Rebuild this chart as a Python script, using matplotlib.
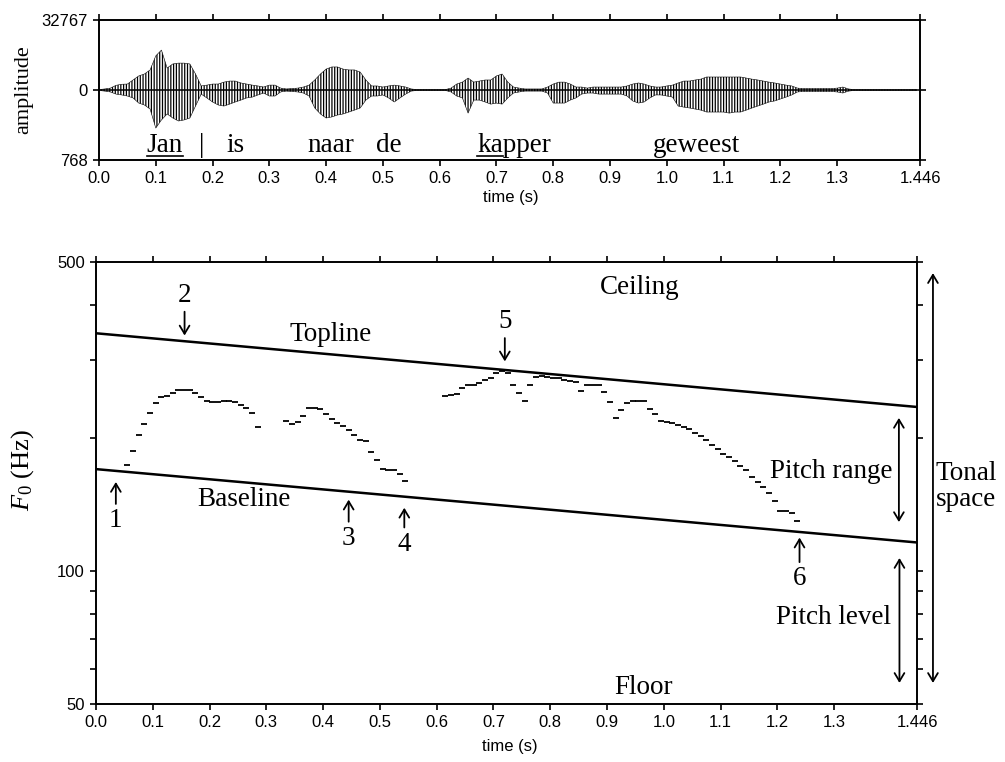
"""
Waveform and F0 contour of 'Jan is naar de kapper geweest'
with topline / baseline and the tonal space annotations.
"""

import numpy as np
import matplotlib
matplotlib.use("Agg")
import matplotlib.pyplot as plt

plt.rcParams["font.family"] = ["Liberation Sans", "DejaVu Sans"]
plt.rcParams["mathtext.fontset"] = "custom"
plt.rcParams["mathtext.rm"] = "Liberation Serif"
plt.rcParams["mathtext.it"] = "Liberation Serif:italic"
plt.rcParams["hatch.linewidth"] = 0.9

SERIF = "Liberation Serif"
DUR = 1.446
FRAME = 0.01

# ── waveform envelope (10 ms steps from 0.00 s), in 1000s of amplitude units
wave_pos_k = [0.2, 0.5, 0.9, 2.2, 2.7, 2.8, 4.7, 6.6, 7.5, 9.4,
              16.0, 18.7, 10.3, 12.2, 12.6, 12.6, 12.2, 7.5, 1.9, 2.3,
              2.8, 2.8, 3.7, 4.2, 4.2, 3.3, 2.8, 2.3, 1.9, 1.4,
              2.3, 2.3, 0.9, 0.5, 0.7, 0.9, 1.4, 2.3, 4.7, 7.5,
              9.8, 10.8, 10.8, 9.8, 9.4, 9.4, 8.4, 4.7, 1.9, 1.9,
              1.4, 1.9, 2.3, 1.9, 1.4, 0.5, 0.2, 0.2, 0.2, 0.2,
              0.2, 0.2, 0.9, 2.8, 3.7, 5.6, 3.7, 4.2, 4.7, 4.7,
              6.6, 7.5, 3.7, 1.4, 0.9, 0.5, 0.5, 0.5, 0.5, 1.4,
              2.8, 3.7, 3.7, 2.8, 1.4, 1.4, 0.9, 1.4, 1.4, 1.4,
              1.4, 1.4, 1.4, 1.9, 2.8, 3.3, 2.8, 1.9, 1.4, 1.4,
              1.9, 2.3, 3.3, 4.2, 4.2, 4.7, 5.1, 6.1, 6.1, 6.1,
              6.1, 6.1, 6.1, 6.1, 5.6, 5.1, 4.7, 4.2, 3.7, 3.3,
              2.8, 2.3, 1.9, 0.9, 0.7, 0.7, 0.7, 0.7, 0.7, 0.7,
              0.9, 1.4, 0.5, 0.2, 0.2, 0.2, 0.2, 0.2, 0.2, 0.2,
              0.2, 0.2, 0.2, 0.2, 0.2]
wave_neg_k = [0.2, 0.5, 0.9, 1.9, 2.3, 2.8, 3.7, 6.1, 7.0, 8.9,
              17.8, 14.0, 11.2, 13.1, 14.5, 14.0, 13.1, 7.5, 1.9, 3.7,
              5.6, 7.0, 7.5, 6.6, 5.6, 4.7, 3.7, 3.3, 2.3, 1.4,
              2.8, 2.8, 0.9, 0.5, 0.7, 0.9, 1.4, 2.8, 8.4, 11.2,
              13.1, 12.6, 11.7, 11.2, 10.3, 9.4, 8.4, 4.7, 2.8, 2.8,
              2.3, 3.7, 5.6, 3.7, 1.9, 0.5, 0.2, 0.2, 0.2, 0.2,
              0.2, 0.2, 0.9, 2.8, 3.7, 10.8, 4.7, 4.7, 5.6, 6.6,
              6.1, 6.6, 3.7, 1.4, 0.9, 0.5, 0.5, 0.5, 0.5, 1.4,
              6.1, 6.1, 6.1, 4.7, 3.7, 1.9, 1.4, 1.4, 1.9, 1.9,
              1.9, 1.9, 1.9, 2.8, 5.1, 6.1, 5.6, 3.7, 2.3, 2.3,
              2.8, 3.3, 7.5, 8.0, 8.4, 8.9, 9.4, 10.3, 10.3, 10.3,
              10.3, 10.8, 10.3, 10.3, 9.4, 8.4, 7.5, 6.6, 5.6, 5.1,
              4.2, 3.3, 2.3, 0.9, 0.7, 0.7, 0.7, 0.7, 0.7, 0.7,
              0.9, 1.4, 0.5, 0.2, 0.2, 0.2, 0.2, 0.2, 0.2, 0.2,
              0.2, 0.2, 0.2, 0.2, 0.2]

words = ["Jan", "|", "is", "naar", "de", "kapper", "geweest"]
word_t = [0.116, 0.181, 0.241, 0.409, 0.511, 0.731, 1.052]
word_underline = [3, 0, 0, 0, 0, 2, 0]   # leading letters underlined
WORD_Y = -29000

amp_ticks = [-32768, 0, 32767]
amp_ticklabels = ["768", "0", "32767"]
time_ticks = [0.0, 0.1, 0.2, 0.3, 0.4, 0.5, 0.6, 0.7, 0.8, 0.9, 1.0, 1.1, 1.2, 1.3, 1.446]
time_ticklabels = ["0.0", "0.1", "0.2", "0.3", "0.4", "0.5", "0.6", "0.7",
                   "0.8", "0.9", "1.0", "1.1", "1.2", "1.3", "1.446"]

# ── F0 contour (Hz), 10 ms frames
f0_seg_start = [0.055, 0.335, 0.615]
f0_seg1 = [174, 187, 203, 215, 228, 240, 247, 249, 253, 257, 257, 257,
           253, 248, 242, 241, 241, 242, 242, 241, 238, 234, 228, 212]
f0_seg2 = [218, 215, 217, 224, 234, 234, 233, 226, 221, 216, 213,
           208, 203, 198, 197, 186, 178, 170, 169, 169, 166, 160]
f0_seg3 = [249, 250, 252, 259, 263, 264, 266, 270, 273, 281,
           283, 281, 263, 253, 242, 263, 275, 276, 275, 274,
           274, 270, 269, 267, 256, 264, 264, 263, 254, 241,
           222, 231, 240, 242, 242, 242, 233, 227, 219, 217,
           216, 214, 212, 209, 205, 202, 198, 193, 189, 184,
           181, 177, 173, 169, 163, 159, 155, 150, 144, 137,
           137, 135, 130]

topline_hz = [345, 235]
baseline_hz = [170, 116]
f0_ticks = [50, 100, 500]
f0_minor = [60, 70, 80, 90, 200, 300, 400]

# numbered arrows: label position and arrow tip
mark_labels = ["1", "2", "3", "4", "5", "6"]
mark_t = [0.035, 0.156, 0.445, 0.543, 0.720, 1.239]
mark_text_hz = [130, 421, 118.5, 115, 367, 96]
mark_tip_hz = [159, 341, 145, 139, 298, 119]

region_labels = ["Ceiling", "Floor", "Topline", "Baseline",
                 "Pitch range", "Pitch level", "Tonal\nspace"]
region_t = [0.958, 0.964, 0.413, 0.261, 1.294, 1.298, 1.533]
region_hz = [437, 54.6, 343, 145, 168, 78.3, 155]

span_t = [1.414, 1.415, 1.474]          # pitch range, pitch level, tonal space
span_top_hz = [222, 107, 472]
span_bot_hz = [129, 55.8, 55.8]


def style_axes(ax):
    for s in ax.spines.values():
        s.set_linewidth(1.4)
    ax.tick_params(which="both", direction="out", length=4, width=1.2,
                   top=True, right=True, labelsize=12, pad=4)


fig = plt.figure(figsize=(10.05, 7.62), dpi=100)

# ── top: waveform
ax1 = fig.add_axes([0.0985, 0.790, 0.817, 0.1837])
t_wave = FRAME * np.arange(len(wave_pos_k))
ax1.fill_between(t_wave, -1000 * np.array(wave_neg_k), 1000 * np.array(wave_pos_k),
                 facecolor="white", edgecolor="black", hatch="||||||", linewidth=0.4)
ax1.axhline(0, color="black", lw=1.1)
ax1.set_xlim(0, DUR)
ax1.set_ylim(-32768, 32767)
ax1.set_yticks(amp_ticks)
ax1.set_yticklabels(amp_ticklabels)
ax1.set_xticks(time_ticks)
ax1.set_xticklabels(time_ticklabels)
style_axes(ax1)
ax1.set_ylabel("amplitude", family=SERIF, fontsize=16)
ax1.yaxis.set_label_coords(-0.080, 0.5)
ax1.set_xlabel("time (s)", fontsize=12)
ax1.xaxis.set_label_coords(0.502, -0.214)

renderer = fig.canvas.get_renderer()
for w, t, n in zip(words, word_t, word_underline):
    txt = ax1.text(t, WORD_Y, w, family=SERIF, fontsize=19.5, ha="center", va="baseline")
    if not n:
        continue
    # underline the first n letters
    bb = txt.get_window_extent(renderer)
    part = ax1.text(0, 0, w[:n], family=SERIF, fontsize=19.5)
    pw = part.get_window_extent(renderer).width
    part.remove()
    base_y = ax1.transData.transform((t, WORD_Y))[1] - 4
    (x0, y0), (x1, _) = fig.transFigure.inverted().transform([(bb.x0, base_y), (bb.x0 + pw, base_y)])
    fig.add_artist(plt.Line2D([x0, x1], [y0, y0], transform=fig.transFigure,
                              color="black", lw=1.2))

# ── bottom: F0 contour
ax2 = fig.add_axes([0.0955, 0.0761, 0.817, 0.580])
ax2.set_yscale("log")
ax2.set_xlim(0, DUR)
ax2.set_ylim(50, 500)

for start, seg in zip(f0_seg_start, [f0_seg1, f0_seg2, f0_seg3]):
    t = start + FRAME * np.arange(len(seg))
    ax2.plot(t, seg, ls="none", marker="_", ms=4.5, mew=1.3, color="black")

ax2.plot([0, DUR], topline_hz, color="black", lw=1.8)
ax2.plot([0, DUR], baseline_hz, color="black", lw=1.8)

ax2.set_yticks(f0_ticks)
ax2.set_yticklabels([str(v) for v in f0_ticks])
ax2.set_yticks(f0_minor, minor=True)
ax2.set_yticklabels([], minor=True)
ax2.set_xticks(time_ticks)
ax2.set_xticklabels(time_ticklabels)
style_axes(ax2)
ax2.set_ylabel(r"$F_{\mathit{0}}$ (Hz)", family=SERIF, fontsize=19)
ax2.yaxis.set_label_coords(-0.073, 0.53)
ax2.set_xlabel("time (s)", fontsize=12)
ax2.xaxis.set_label_coords(0.504, -0.079)

head = "->,head_length=0.3,head_width=0.18"
for lab, t, fy, tip in zip(mark_labels, mark_t, mark_text_hz, mark_tip_hz):
    ax2.annotate(lab, xy=(t, tip), xytext=(t, fy), family=SERIF, fontsize=19.5,
                 ha="center", va="center",
                 arrowprops=dict(arrowstyle=head, lw=1.3, color="black",
                                 shrinkA=1, shrinkB=0))

for lab, t, fy in zip(region_labels, region_t, region_hz):
    ax2.text(t, fy, lab, family=SERIF, fontsize=19.5, ha="center", va="center",
             linespacing=1.05, clip_on=False)

for t, top, bot in zip(span_t, span_top_hz, span_bot_hz):
    ax2.annotate("", xy=(t, top), xytext=(t, bot), annotation_clip=False,
                 arrowprops=dict(arrowstyle="<->,head_length=0.3,head_width=0.18",
                                 lw=1.3, color="black", shrinkA=0, shrinkB=0,
                                 mutation_scale=19.5))

fig.savefig("out.png", dpi=100)
